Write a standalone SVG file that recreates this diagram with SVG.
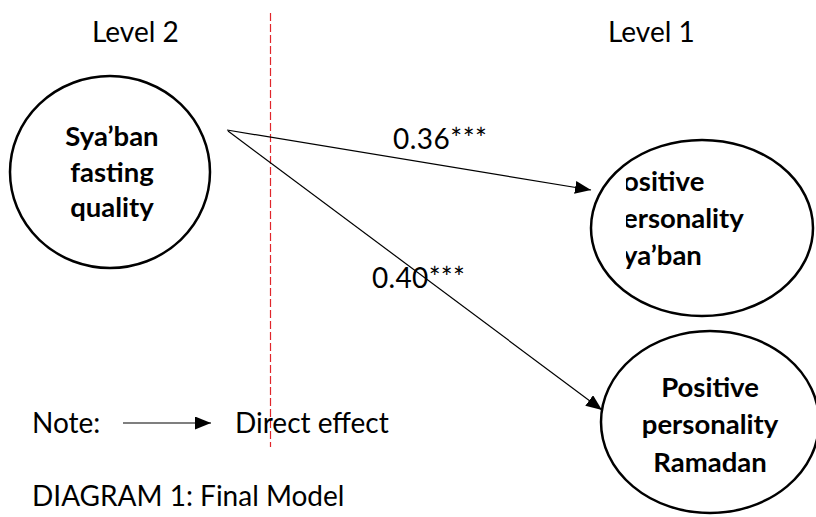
<svg xmlns="http://www.w3.org/2000/svg" width="816" height="517" viewBox="0 0 816 517">
<style>
.t{font-family:Lato,"Open Sans","Liberation Sans",sans-serif;font-size:28px;fill:#000}
.b{font-family:Lato,"Open Sans","Liberation Sans",sans-serif;font-size:27.5px;font-weight:bold;fill:#000;text-anchor:middle}
.bl{font-family:Lato,"Open Sans","Liberation Sans",sans-serif;font-size:27.5px;font-weight:bold;fill:#000}
.node{fill:#fff;stroke:#000;stroke-width:2.5}
.conn{stroke:#000;stroke-width:1.2;fill:none}
</style>
<defs>
<marker id="ah" viewBox="0 0 16 13" refX="16" refY="6.5" markerWidth="16" markerHeight="13" markerUnits="userSpaceOnUse" orient="auto">
<path d="M0,0 L16,6.5 L0,13 z" fill="#000"/>
</marker>
<clipPath id="clip2"><rect x="626" y="130" width="190" height="200"/></clipPath>
</defs>
<rect width="816" height="517" fill="#fff"/>
<text class="t" x="92" y="42">Level 2</text>
<text class="t" x="608" y="42">Level 1</text>
<line x1="270.5" y1="13" x2="270.5" y2="447" stroke="#e0262b" stroke-width="1.2" stroke-dasharray="8 3"/>
<g id="node-syaban-fasting">
<ellipse class="node" cx="110" cy="172" rx="100" ry="96"/>
<text class="b" x="112" y="146">Sya’ban</text>
<text class="b" x="112" y="182">fasting</text>
<text class="b" x="112" y="217">quality</text>
</g>
<g id="node-positive-syaban">
<ellipse class="node" cx="702" cy="228" rx="111" ry="88"/>
<g clip-path="url(#clip2)">
<text class="bl" x="623" y="191">ositive</text>
<text class="bl" x="623" y="228">ersonality</text>
<text class="bl" x="623" y="265">ya’ban</text>
</g>
</g>
<g id="node-positive-ramadan">
<ellipse class="node" cx="710" cy="422" rx="109" ry="91"/>
<text class="b" x="710" y="397">Positive</text>
<text class="b" x="710" y="434">personality</text>
<text class="b" x="710" y="472">Ramadan</text>
</g>
<g id="connectors">
<line class="conn" x1="227" y1="130" x2="591" y2="190" marker-end="url(#ah)"/>
<line class="conn" x1="228" y1="131" x2="602" y2="410" marker-end="url(#ah)"/>
<line class="conn" x1="123" y1="423" x2="211" y2="423" marker-end="url(#ah)"/>
</g>
<text class="t" x="393" y="149" textLength="94">0.36***</text>
<text class="t" x="372" y="288" textLength="93">0.40***</text>
<text class="t" x="32" y="433">Note:</text>
<text class="t" x="235" y="433">Direct effect</text>
<text class="t" x="32" y="506">DIAGRAM 1: Final Model</text>
</svg>
